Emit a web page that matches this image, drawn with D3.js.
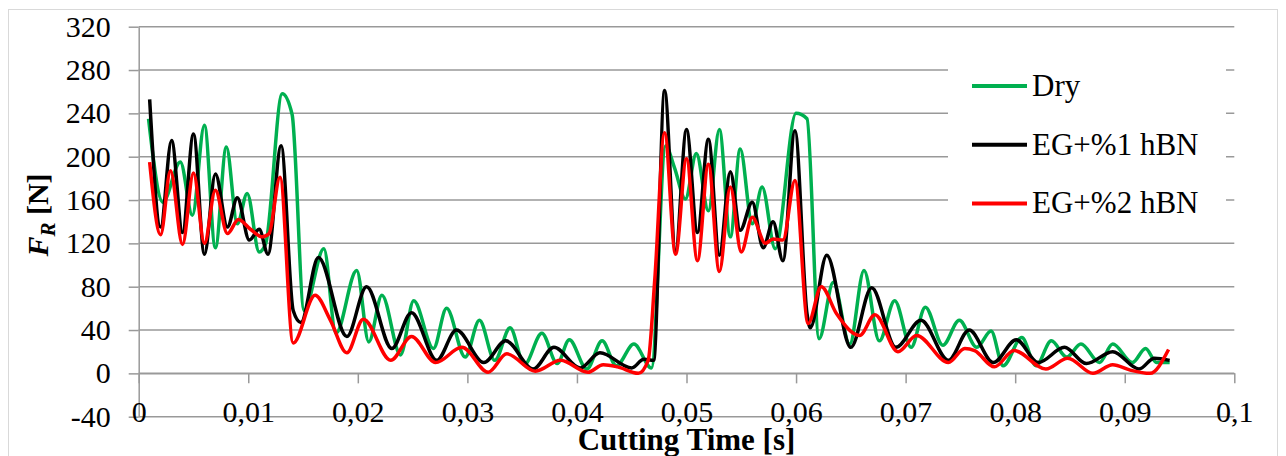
<!DOCTYPE html>
<html>
<head>
<meta charset="utf-8">
<script src="https://d3js.org/d3.v7.min.js"></script>
<style>
  body { margin: 0; background: #fff; }
  svg { display: block; }
  svg text { font-family: "Liberation Serif", "Times New Roman", serif; }
</style>
</head>
<body>
<svg width="1286" height="456"></svg>
<script>
// Dry
var dryT = [0.0009, 0.0022, 0.0038, 0.0049, 0.0060, 0.0070, 0.0080, 0.0090, 0.0099, 0.0110, 0.0116,
  0.0131, 0.0140, 0.0151, 0.0169, 0.0180, 0.0199, 0.0210, 0.0222, 0.0239, 0.0251, 0.0269, 0.0281,
  0.0298, 0.0311, 0.0325, 0.0339, 0.0352, 0.0368, 0.0382, 0.0393, 0.0409, 0.0423, 0.0436, 0.0452,
  0.0468, 0.0481, 0.0489, 0.0499, 0.0509, 0.0520, 0.0530, 0.0540, 0.0549, 0.0560, 0.0569, 0.0581,
  0.0600, 0.0610, 0.0621, 0.0634, 0.0649, 0.0662, 0.0676, 0.0690, 0.0705, 0.0718, 0.0734, 0.0749,
  0.0765, 0.0778, 0.0789, 0.0806, 0.0819, 0.0833, 0.0847, 0.0860, 0.0877, 0.0889, 0.0907, 0.0919,
  0.0929, 0.0941];
var dryF = [235, 158, 195, 146, 229, 116, 209, 138, 166, 112, 120,
  258, 239, 58, 115, 37, 95, 29, 72, 17, 67, 23, 60,
  15, 49, 12, 42, 8, 37, 9, 31, 4, 30, 7, 27,
  5, 210, 190, 161, 203, 150, 225, 126, 207, 138, 172, 115,
  240, 235, 32, 84, 27, 95, 30, 67, 24, 61, 26, 49,
  24, 39, 7, 33, 7, 30, 15, 27, 10, 27, 10, 23,
  10, 10];

// EG+%1 hBN
var eg1T = [0.0010, 0.0020, 0.0030, 0.0040, 0.0050, 0.0060, 0.0070, 0.0081, 0.0090, 0.0101, 0.0110,
  0.0118, 0.0130, 0.0141, 0.0148, 0.0164, 0.0190, 0.0208, 0.0231, 0.0249, 0.0272, 0.0290, 0.0315,
  0.0335, 0.0360, 0.0379, 0.0403, 0.0421, 0.0450, 0.0461, 0.0470, 0.0480, 0.0490, 0.0500, 0.0510,
  0.0520, 0.0530, 0.0540, 0.0549, 0.0560, 0.0570, 0.0579, 0.0588, 0.0599, 0.0610, 0.0613, 0.0628,
  0.0650, 0.0669, 0.0691, 0.0714, 0.0739, 0.0758, 0.0780, 0.0801, 0.0821, 0.0845, 0.0865, 0.0889,
  0.0913, 0.0927, 0.0941];
var eg1F = [253, 135, 215, 130, 221, 110, 184, 135, 162, 123, 133,
  110, 210, 58, 47, 107, 34, 80, 23, 56, 12, 40, 10,
  30, 4, 24, 5, 19, 5, 13, 12, 261, 113, 225, 130,
  216, 109, 186, 132, 158, 116, 140, 104, 224, 55, 42, 109,
  24, 79, 24, 49, 12, 40, 10, 31, 10, 24, 9, 20,
  4, 14, 12];

// EG+%2 hBN
var eg2T = [0.0010, 0.0020, 0.0029, 0.0040, 0.0050, 0.0060, 0.0070, 0.0081, 0.0091, 0.0102, 0.0113,
  0.0119, 0.0129, 0.0141, 0.0161, 0.0175, 0.0190, 0.0205, 0.0230, 0.0249, 0.0271, 0.0295, 0.0319,
  0.0336, 0.0362, 0.0385, 0.0410, 0.0424, 0.0437, 0.0456, 0.0465, 0.0471, 0.0480, 0.0490, 0.0500,
  0.0510, 0.0520, 0.0530, 0.0540, 0.0550, 0.0560, 0.0572, 0.0579, 0.0588, 0.0599, 0.0611, 0.0623,
  0.0637, 0.0658, 0.0672, 0.0693, 0.0710, 0.0739, 0.0754, 0.0763, 0.0781, 0.0799, 0.0828, 0.0848,
  0.0871, 0.0889, 0.0905, 0.0923, 0.0940];
var eg2F = [195, 128, 187, 119, 185, 120, 169, 129, 142, 133, 126,
  129, 181, 28, 72, 49, 19, 50, 12, 34, 10, 24, 1,
  18, 2, 12, 1, 8, 6, 0, 12, 86, 222, 110, 198,
  104, 193, 94, 172, 112, 144, 120, 124, 123, 178, 46, 80,
  55, 35, 54, 20, 35, 10, 23, 21, 6, 21, 4, 14,
  0, 8, 3, 0, 22];

var seriesNames = ["Dry", "EG+%1 hBN", "EG+%2 hBN"];
var seriesColors = ["#00b050", "#000000", "#ff0000"];
var xTicks = [0, 0.01, 0.02, 0.03, 0.04, 0.05, 0.06, 0.07, 0.08, 0.09, 0.1];
var yTicks = [-40, 0, 40, 80, 120, 160, 200, 240, 280, 320];

var serif = "Liberation Serif";
var svg = d3.select("svg");
var x = d3.scaleLinear().domain([0, 0.1]).range([138.7, 1234.3]);
var y = d3.scaleLinear().domain([-40, 320]).range([416.7, 26.7]);
var grid = "#999999";

// chart area border
svg.append("rect")
  .attr("x", 8.5).attr("y", 9.5).attr("width", 1269).attr("height", 460)
  .attr("fill", "none").attr("stroke", "#d9d9d9").attr("stroke-width", 1);

// horizontal gridlines
svg.append("g").selectAll("line")
  .data(yTicks)
  .enter().append("line")
  .attr("x1", x(0)).attr("x2", x(0.1))
  .attr("y1", function(d) { return y(d); })
  .attr("y2", function(d) { return y(d); })
  .attr("stroke", grid).attr("stroke-width", 1.5);

// y axis
var yAxis = svg.append("g")
  .attr("transform", "translate(" + x(0) + ",0)")
  .call(d3.axisLeft(y).tickValues(yTicks).tickSize(10).tickPadding(18).tickSizeOuter(0)
    .tickFormat(function(d) { return String(d); }));
yAxis.attr("font-family", serif);
yAxis.select(".domain").attr("stroke", grid).attr("stroke-width", 1.5);
yAxis.selectAll(".tick line").attr("stroke", grid).attr("stroke-width", 1.5);
yAxis.selectAll("text").attr("font-size", 30).attr("fill", "#000")
  .attr("font-family", serif);

// x axis at F = 0
var xAxis = svg.append("g")
  .attr("transform", "translate(0," + y(0) + ")")
  .call(d3.axisBottom(x).tickValues(xTicks).tickSize(10).tickPadding(17).tickSizeOuter(0)
    .tickFormat(function(d) { return d === 0 ? "0" : String(d).replace(".", ","); }));
xAxis.attr("font-family", serif);
xAxis.select(".domain").attr("stroke", grid).attr("stroke-width", 1.5);
xAxis.selectAll(".tick line").attr("stroke", grid).attr("stroke-width", 1.5);
xAxis.selectAll("text").attr("font-size", 30).attr("fill", "#000")
  .attr("font-family", serif);

// series
var line = d3.line()
  .x(function(d) { return x(d[0]); })
  .y(function(d) { return y(d[1]); })
  .curve(d3.curveMonotoneX);

var all = [d3.zip(dryT, dryF), d3.zip(eg1T, eg1F), d3.zip(eg2T, eg2F)];
all.forEach(function(pts, i) {
  svg.append("path")
    .attr("d", line(pts))
    .attr("fill", "none")
    .attr("stroke", seriesColors[i])
    .attr("stroke-width", 3.5)
    .attr("stroke-linejoin", "round");
});

// legend
svg.append("rect")
  .attr("x", 948).attr("y", 42).attr("width", 278).attr("height", 186)
  .attr("fill", "#fff");
var leg = svg.append("g").selectAll("g")
  .data(seriesNames)
  .enter().append("g")
  .attr("transform", function(d, i) { return "translate(972," + (86 + i * 58.7) + ")"; });
leg.append("line")
  .attr("x1", 0).attr("x2", 55)
  .attr("stroke", function(d, i) { return seriesColors[i]; })
  .attr("stroke-width", 4);
leg.append("text")
  .attr("x", 60).attr("y", 10)
  .attr("font-size", 31)
  .attr("font-family", serif)
  .text(function(d) { return d; });

// axis titles
svg.append("text")
  .attr("x", (x(0) + x(0.1)) / 2).attr("y", 450)
  .attr("text-anchor", "middle")
  .attr("font-family", serif)
  .attr("font-size", 31).attr("font-weight", "bold")
  .text("Cutting Time [s]");

var yt = svg.append("text")
  .attr("transform", "translate(48,215) rotate(-90)")
  .attr("text-anchor", "middle")
  .attr("font-family", serif)
  .attr("font-size", 30).attr("font-weight", "bold");
yt.append("tspan").attr("font-style", "italic").text("F");
yt.append("tspan").attr("font-style", "italic").attr("font-size", 21).attr("dy", 7).text("R");
yt.append("tspan").attr("dy", -7).text(" [N]");
</script>
</body>
</html>
